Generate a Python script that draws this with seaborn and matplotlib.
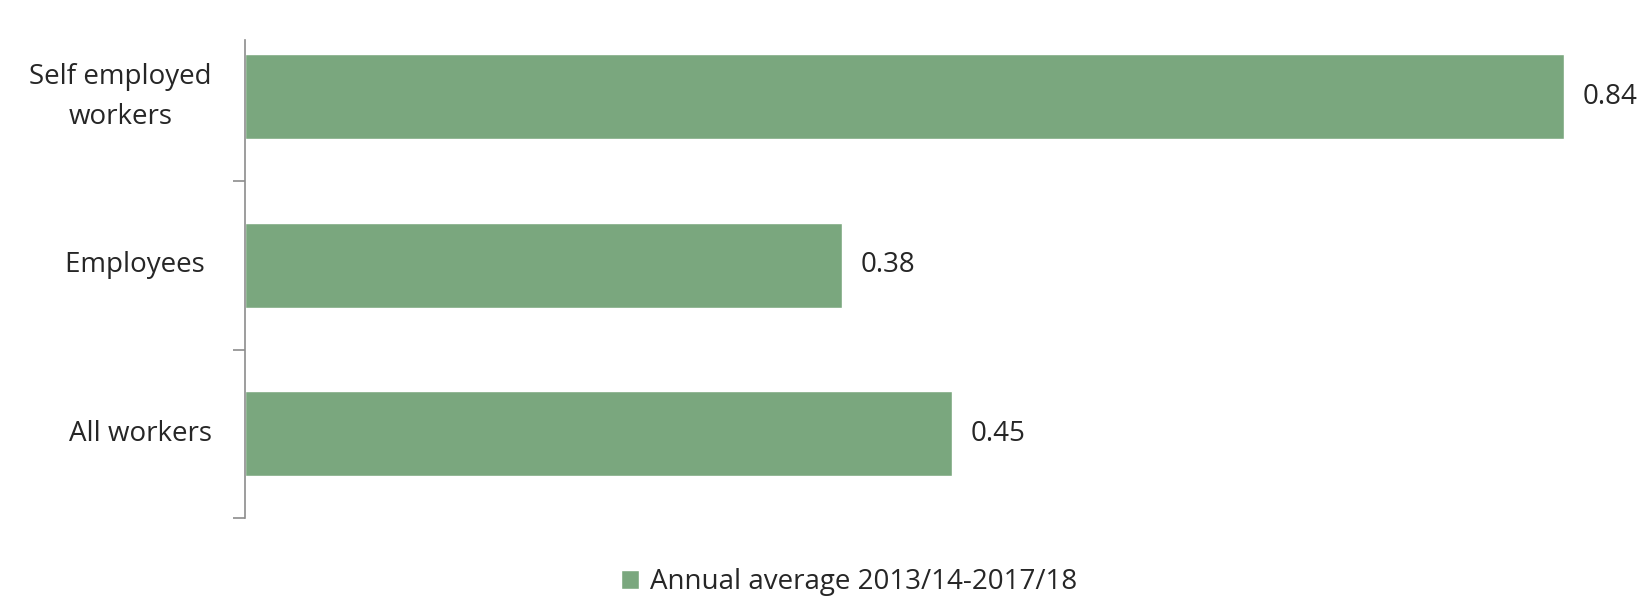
import matplotlib
matplotlib.use("Agg")
import matplotlib.pyplot as plt
import seaborn as sns
import pandas as pd

categories = ["Self employed\nworkers", "Employees ", "All workers"]
values = [0.84, 0.38, 0.45]
series_name = "Annual average 2013/14-2017/18"

sns.set_style("white")
plt.rcParams["font.family"] = ["Open Sans", "DejaVu Sans"]

bar_color = "#7AA77E"
text_color = "#262626"
fs = 20

df = pd.DataFrame({"group": categories, "rate": values})

W, H = 1650, 597
fig = plt.figure(figsize=(W / 100, H / 100), dpi=100)
left_px, right_px = 245, 1650
top_px, bottom_px = 40, 518
ax = fig.add_axes([left_px / W, 1 - bottom_px / H,
                   (right_px - left_px) / W, (bottom_px - top_px) / H])

sns.barplot(data=df, y="group", x="rate", orient="h", color=bar_color,
            width=0.505, ax=ax, saturation=1, label=series_name)

px_per_cat = 168.5
ax.set_ylim(2.5, 2.5 - (bottom_px - top_px) / px_per_cat)
ax.set_xlim(0, (right_px - left_px) / 1570)

for i, v in enumerate(values):
    ax.text(v + 19 / 1570, i, f"{v:.2f}", va="center", ha="left",
            fontsize=fs, color=text_color)

ax.set_xlabel("")
ax.set_ylabel("")
ax.set_xticks([])
ax.set_yticks(range(len(categories)))
ax.set_yticklabels(categories, fontsize=fs, color=text_color,
                   multialignment="center", linespacing=1.55, va="center")
ax.tick_params(axis="y", which="major", left=False, length=0, pad=24)
ax.set_yticks([0.5, 1.5, 2.5], minor=True)
ax.tick_params(axis="y", which="minor", left=True, length=8.5, width=1.2,
               color="#8c8c8c", direction="out")

for s in ["top", "right", "bottom"]:
    ax.spines[s].set_visible(False)
ax.spines["left"].set_color("#8c8c8c")
ax.spines["left"].set_linewidth(1.2)

handles, labels = ax.get_legend_handles_labels()
if ax.get_legend() is not None:
    ax.get_legend().remove()
fig.legend(handles, labels, loc="center", bbox_to_anchor=(849 / W, 1 - 582 / H),
           frameon=False, fontsize=fs, handlelength=0.65, handleheight=0.65,
           handletextpad=0.4, labelcolor=text_color)

fig.savefig("out.png", dpi=100, facecolor="white")
